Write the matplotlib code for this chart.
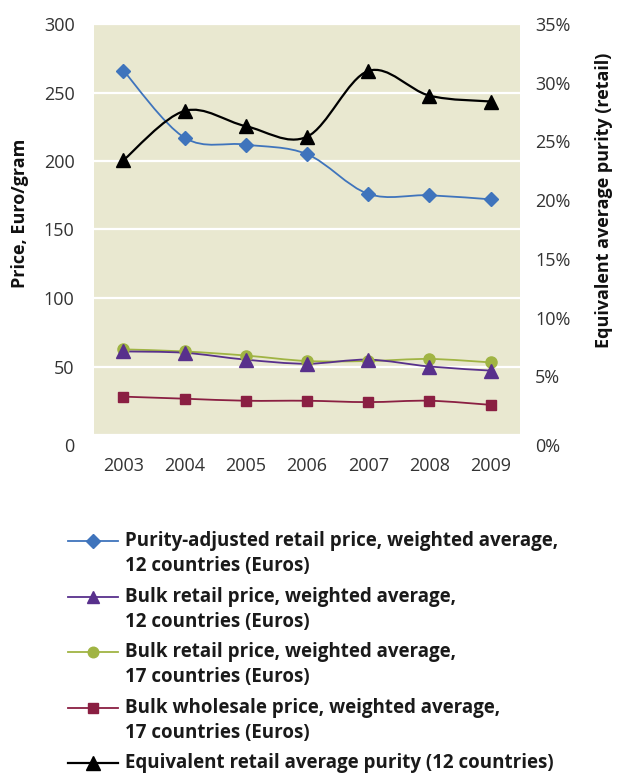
import matplotlib
matplotlib.use("Agg")
import matplotlib.pyplot as plt
from matplotlib.path import Path
from matplotlib.patches import PathPatch
from matplotlib.lines import Line2D
from matplotlib.ticker import FuncFormatter
import matplotlib.transforms as mtransforms
import numpy as np

# ---------------- data ----------------
years = ["2003", "2004", "2005", "2006", "2007", "2008", "2009"]
purity_adjusted_12 = [266, 217, 212, 205, 176, 175, 172]
bulk_retail_12 = [61, 60, 55, 52, 55, 50, 47]
bulk_retail_17 = [62.5, 61, 58, 54, 54, 55.5, 53]
bulk_wholesale_17 = [28, 26.5, 25, 25, 24, 25, 22]
retail_purity_12 = [0.234, 0.276, 0.263, 0.254, 0.310, 0.289, 0.284]

price_ticks = [0, 50, 100, 150, 200, 250, 300]
purity_ticks = [0, 0.05, 0.10, 0.15, 0.20, 0.25, 0.30, 0.35]

labels = [
    "Purity-adjusted retail price, weighted average,\n12 countries (Euros)",
    "Bulk retail price, weighted average,\n12 countries (Euros)",
    "Bulk retail price, weighted average,\n17 countries (Euros)",
    "Bulk wholesale price, weighted average,\n17 countries (Euros)",
    "Equivalent retail average purity (12 countries)",
]

colors = ["#3F74BC", "#58308C", "#A0B443", "#8A1F42", "#000000"]
markers = ["D", "^", "o", "s", "^"]
msizes = [7, 9.5, 8, 7.5, 10]
lws = [1.3, 1.3, 1.3, 1.3, 1.6]

plt.rcParams["font.family"] = ["Open Sans", "DejaVu Sans"]

fig = plt.figure(figsize=(6.18, 7.74), dpi=100)
W, H = 618, 774
ax = fig.add_axes([94 / W, 1 - 435 / H, (520 - 94) / W, (435 - 24) / H])
ax2 = ax.twinx()

ax.set_facecolor("#E9E8D0")
for a in (ax, ax2):
    for s in a.spines.values():
        s.set_visible(False)
    a.tick_params(length=0, labelsize=13, labelcolor="#333333")

x = np.arange(len(years))
ax.set_xlim(-0.48, len(years) - 0.52)
ax.set_ylim(0, 300)
ax2.set_ylim(0, 0.35)
ax.set_yticks(price_ticks)
ax2.set_yticks(purity_ticks)
ax2.yaxis.set_major_formatter(FuncFormatter(lambda v, p: f"{v*100:.0f}%"))
ax.set_xticks(x)
ax.set_xticklabels(years)
ax.tick_params(axis="x", pad=16)
ax.tick_params(axis="y", pad=14)
ax2.tick_params(axis="y", pad=11)
ax.grid(axis="y", color="white", lw=1.6)
ax.set_axisbelow(True)

ax.set_ylabel("Price, Euro/gram", fontsize=13, fontweight="bold", color="#111111")
ax.yaxis.set_label_coords(-0.153, 0.54)
ax2.set_ylabel("Equivalent average purity (retail)", fontsize=13, fontweight="bold",
               color="#111111", rotation=90)
ax2.yaxis.set_label_coords(1.176, 0.57)


def smooth_path(xs, ys):
    xs = np.asarray(xs, float)
    ys = np.asarray(ys, float)
    n = len(xs)
    verts = [(xs[0], ys[0])]
    codes = [Path.MOVETO]
    for i in range(n - 1):
        i0 = max(i - 1, 0)
        i3 = min(i + 2, n - 1)
        c1 = (xs[i] + (xs[i + 1] - xs[i0]) / 6, ys[i] + (ys[i + 1] - ys[i0]) / 6)
        c2 = (xs[i + 1] - (xs[i3] - xs[i]) / 6, ys[i + 1] - (ys[i3] - ys[i]) / 6)
        verts += [c1, c2, (xs[i + 1], ys[i + 1])]
        codes += [Path.CURVE4] * 3
    return Path(verts, codes)


series = [purity_adjusted_12, bulk_retail_12, bulk_retail_17, bulk_wholesale_17]
order = [3, 2, 1, 0]
for i in order:
    ys = series[i]
    ax.add_patch(PathPatch(smooth_path(x, ys), facecolor="none", edgecolor=colors[i],
                           lw=lws[i], zorder=3))
    ax.plot(x, ys, ls="none", marker=markers[i], ms=msizes[i], color=colors[i],
            mec=colors[i], zorder=4)

ax2.add_patch(PathPatch(smooth_path(x, retail_purity_12), facecolor="none",
                        edgecolor=colors[4], lw=lws[4], zorder=3))
ax2.plot(x, retail_purity_12, ls="none", marker=markers[4], ms=msizes[4],
         color=colors[4], zorder=4)

# shift the zero labels down a little, as in the reference
fig.canvas.draw()
off = mtransforms.ScaledTranslation(0, -10 / 100, fig.dpi_scale_trans)
for a in (ax, ax2):
    for t in a.yaxis.get_major_ticks():
        if abs(t.get_loc()) < 1e-9:
            t.label1.set_transform(t.label1.get_transform() + off)
            t.label2.set_transform(t.label2.get_transform() + off)

# ---------------- legend ----------------
entry_y = [540.7, 597.3, 651.7, 708.3, 763.3]
line_gap = 25
for i, lab in enumerate(labels):
    yf = 1 - entry_y[i] / H
    fig.add_artist(Line2D([68 / W, 118 / W], [yf, yf], color=colors[i], lw=lws[i],
                          transform=fig.transFigure))
    fig.add_artist(Line2D([93 / W], [yf], color=colors[i], marker=markers[i],
                          ms=msizes[i] * 0.95, transform=fig.transFigure))
    for k, part in enumerate(lab.split("\n")):
        fig.text(125 / W, 1 - (entry_y[i] + k * line_gap) / H, part, fontsize=13.5,
                 fontweight="bold", color="#1a1a1a", va="center", ha="left")

fig.savefig("out.png", dpi=100)
